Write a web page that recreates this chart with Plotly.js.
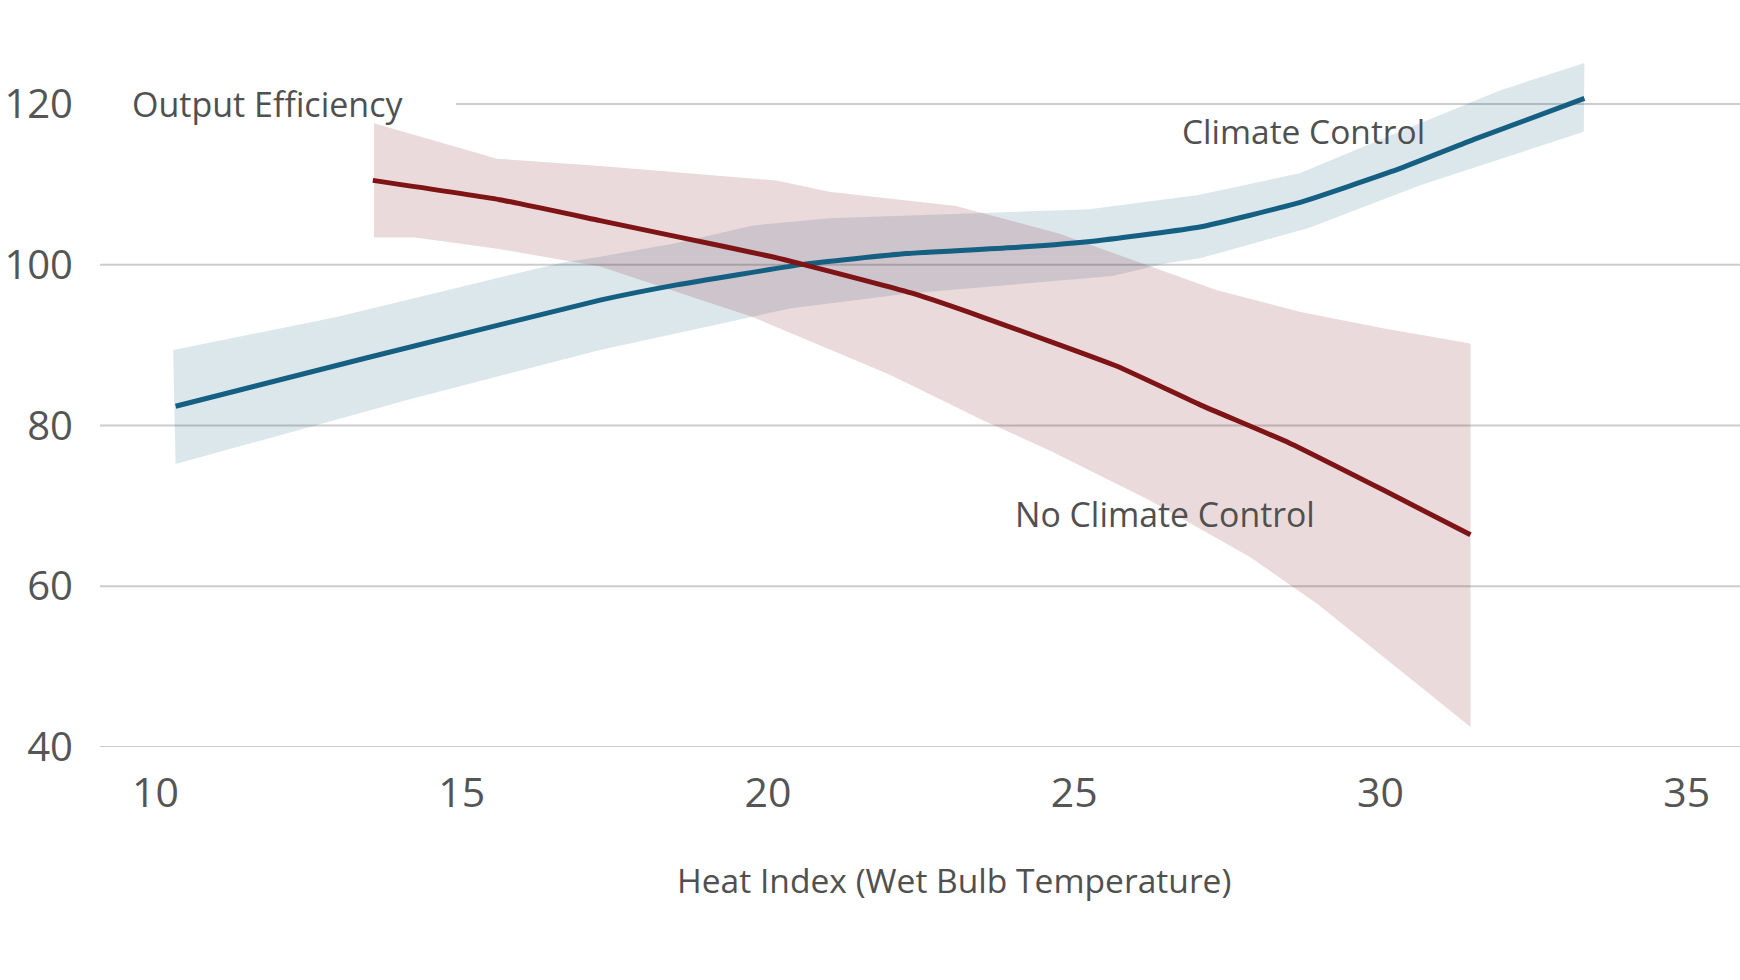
<!DOCTYPE html>
<html>
<head>
<meta charset="utf-8">
<script src="https://cdn.plot.ly/plotly-3.0.1.min.js"></script>
<style>
html,body{margin:0;padding:0;background:#fff;}
#chart{width:1740px;height:980px;}
</style>
</head>
<body>
<div id="chart"></div>
<script>
// ---- Data ----
// Climate Control: mean line
const ccX = [10.33, 13.44, 17.26, 18.51, 20.57, 22.26, 24.13, 25.38, 27.05, 28.66, 30.29, 31.56, 33.33];
const ccY = [82.4, 88.4, 95.6, 97.5, 100.05, 101.4, 102.2, 103.0, 104.7, 107.7, 111.9, 115.7, 120.7];
// Climate Control: confidence band
const ccUpperX = [10.29, 12.96, 16.65, 17.26, 18.51, 19.76, 21.0, 23.19, 25.25, 27.05, 28.68, 30.29, 31.95, 33.33];
const ccUpperY = [89.4, 93.5, 100.3, 101.0, 102.7, 104.9, 105.8, 106.4, 106.9, 108.7, 111.4, 116.5, 121.7, 125.1];
const ccLowerX = [10.33, 14.17, 17.26, 20.38, 22.26, 25.63, 26.5, 27.05, 28.84, 30.65, 33.32];
const ccLowerY = [75.2, 83.3, 89.4, 94.6, 96.4, 98.6, 100.2, 100.8, 104.6, 109.9, 116.55];

// No Climate Control: mean line
const nccX = [13.55, 15.62, 17.26, 18.51, 20.07, 20.57, 22.38, 23.5, 25.69, 27.05, 28.52, 30.04, 31.47];
const nccY = [110.5, 108.1, 105.5, 103.5, 101.0, 100.05, 96.4, 93.5, 87.4, 82.6, 77.8, 72.0, 66.4];
// No Climate Control: confidence band
const nccUpperX = [13.57, 15.58, 17.26, 20.14, 21.0, 23.07, 24.75, 27.32, 28.68, 30.04, 31.47];
const nccUpperY = [117.6, 113.2, 112.3, 110.5, 109.1, 107.3, 103.9, 96.85, 94.15, 92.1, 90.2];
const nccLowerX = [13.57, 14.24, 15.58, 17.26, 19.75, 22.0, 23.5, 24.6, 26.23, 27.87, 28.96, 30.59, 31.47];
const nccLowerY = [103.4, 103.4, 102.0, 99.8, 93.5, 86.3, 80.7, 76.9, 70.7, 63.65, 57.85, 47.9, 42.5];

// Axis ticks
const xTicks = [10, 15, 20, 25, 30, 35];
const yTicks = [40, 60, 80, 100, 120];

// Labels
const yLabel = "Output Efficiency";
const xLabel = "Heat Index (Wet Bulb Temperature)";
const ccName = "Climate Control";
const nccName = "No Climate Control";

// ---- Build traces ----
function band(ux, uy, lx, ly, color, name) {
  return {
    x: ux.concat(lx.slice().reverse()),
    y: uy.concat(ly.slice().reverse()),
    type: 'scatter', mode: 'lines', fill: 'toself',
    fillcolor: color, line: {width: 0}, hoverinfo: 'skip',
    name: name, showlegend: false
  };
}

const FONT = "'Open Sans', 'DejaVu Sans', sans-serif";
const TXT = '#505050';

const traces = [
  band(ccUpperX, ccUpperY, ccLowerX, ccLowerY, 'rgba(20,95,130,0.15)', ccName + ' band'),
  band(nccUpperX, nccUpperY, nccLowerX, nccLowerY, 'rgba(125,21,23,0.155)', nccName + ' band'),
  {x: ccX, y: ccY, type: 'scatter', mode: 'lines', name: ccName,
   line: {color: '#145f82', width: 5, shape: 'spline', smoothing: 0.4}, showlegend: false},
  {x: nccX, y: nccY, type: 'scatter', mode: 'lines', name: nccName,
   line: {color: '#7e1416', width: 5, shape: 'spline', smoothing: 0.4}, showlegend: false}
];

// gridlines (the top one leaves room for the axis label)
const gridStart = {120: 0.217};
const shapes = yTicks.map(v => ({
  type: 'line', layer: 'below', xref: 'paper', yref: 'y',
  x0: gridStart[v] !== undefined ? gridStart[v] : 0, x1: 1, y0: v, y1: v,
  line: {color: '#cccccc', width: 2}
}));

const layout = {
  width: 1740, height: 980,
  margin: {l: 100, r: 0, t: 40, b: 233.3},
  paper_bgcolor: '#ffffff', plot_bgcolor: '#ffffff',
  font: {family: FONT, color: TXT},
  showlegend: false,
  xaxis: {
    range: [9.096, 35.87], tickvals: xTicks, ticktext: xTicks.map(String),
    showgrid: false, zeroline: false, showline: false, ticks: '',
    tickfont: {family: FONT, size: 41, color: '#555555'},
    ticklabelstandoff: 18, fixedrange: true
  },
  yaxis: {
    range: [40, 127.97], tickvals: yTicks, ticktext: yTicks.map(String),
    showgrid: false, zeroline: false, showline: false, ticks: '',
    tickfont: {family: FONT, size: 40, color: '#555555'},
    ticklabelstandoff: 26, fixedrange: true
  },
  shapes: shapes,
  annotations: [
    {text: yLabel, xref: 'paper', yref: 'y', x: 0.0183, y: 120, xanchor: 'left', yanchor: 'middle',
     showarrow: false, font: {family: FONT, size: 34, color: TXT}},
    {text: ccName, xref: 'x', yref: 'y', x: 26.73, y: 116.7, xanchor: 'left', yanchor: 'middle',
     showarrow: false, font: {family: FONT, size: 33.5, color: TXT}},
    {text: nccName, xref: 'x', yref: 'y', x: 24.0, y: 69.0, xanchor: 'left', yanchor: 'middle',
     showarrow: false, font: {family: FONT, size: 33.8, color: TXT}},
    {text: xLabel, xref: 'paper', yref: 'paper', x: 0.5207, y: -0.1886, xanchor: 'center', yanchor: 'middle',
     showarrow: false, font: {family: FONT, size: 33.6, color: TXT}}
  ]
};

Plotly.newPlot('chart', traces, layout, {displayModeBar: false, staticPlot: true});
</script>
</body>
</html>
